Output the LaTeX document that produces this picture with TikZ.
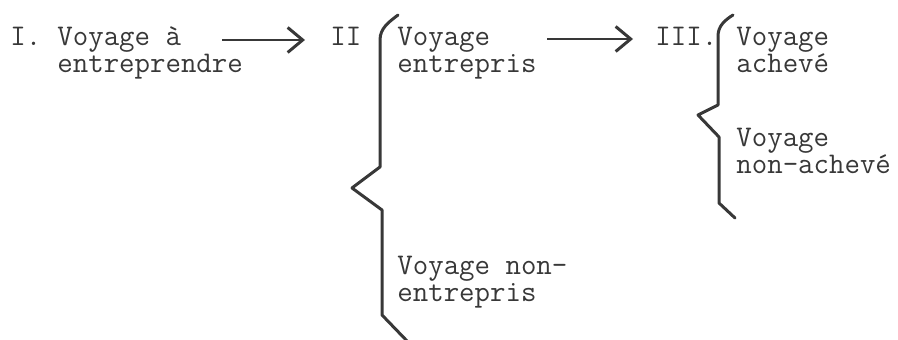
\documentclass[tikz,border=0pt]{standalone}
\usepackage{fontspec}
\usetikzlibrary{arrows.meta}
\definecolor{ink}{gray}{0.22}
\begin{document}
\begin{tikzpicture}[x=0.5pt,y=-0.5pt,
  % multi-line nodes sit on the baseline of their last line
  txt/.style={font=\ttfamily\fontsize{15pt}{13.5pt}\selectfont,
    anchor=base west, inner sep=0pt, align=left, text=ink},
  brace/.style={draw=ink, line width=1.5pt, line join=round, line cap=round},
  arr/.style={draw=ink, line width=1.1pt,
    -{Straight Barb[length=7.5pt,width=12.5pt,line width=1.5pt]}}]
  \useasboundingbox (0,0) rectangle (898,340);

  % stage I
  \node[txt] (tI) at (10,46) {I.};
  \node[txt] (t1) at (57,73) {Voyage à\\entreprendre};

  % stage II
  \node[txt] (tII) at (330,46) {II};
  \node[txt] (t2a) at (397,73) {Voyage\\entrepris};
  \node[txt] (t2b) at (397,302) {Voyage non-\\entrepris};

  % stage III
  \node[txt] (tIII) at (655,46) {III.};
  \node[txt] (t3a) at (736,73) {Voyage\\achevé};
  \node[txt] (t3b) at (736,174) {Voyage\\non-achevé};

  % arrows between stages
  \coordinate (a1) at (222,40);
  \coordinate (a2) at (547,39);
  \draw[arr, shorten >=12.5pt] (a1) -- (a1 -| tII.west);
  \draw[arr, shorten >=11pt] (a2) -- (a2 -| tIII.west);

  % brace of stage II
  \draw[brace] (398,15) .. controls (389,22) and (380,28) .. (380,40)
    -- (380,167) -- (352,188) -- (382,210) -- (382,315) -- (408,342);

  % brace of stage III
  \draw[brace] (733,15) .. controls (725,20) and (718,26) .. (718,36)
    -- (718,105) -- (698,115) -- (719,137) -- (719,203) -- (735,218);
\end{tikzpicture}
\end{document}
